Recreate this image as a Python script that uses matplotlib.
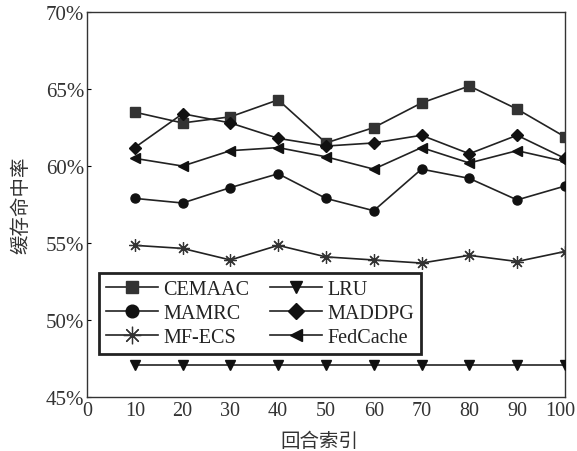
import matplotlib
matplotlib.use("Agg")
import matplotlib.pyplot as plt
from matplotlib.ticker import FuncFormatter
from matplotlib.transforms import ScaledTranslation

rounds = [10, 20, 30, 40, 50, 60, 70, 80, 90, 100]
cemaac = [63.5, 62.8, 63.2, 64.3, 61.5, 62.5, 64.1, 65.2, 63.7, 61.9]
mamrc = [57.9, 57.6, 58.6, 59.5, 57.9, 57.1, 59.8, 59.2, 57.8, 58.7]
mfecs = [54.85, 54.65, 53.9, 54.85, 54.1, 53.9, 53.7, 54.2, 53.8, 54.45]
lru = [47.1, 47.1, 47.1, 47.1, 47.1, 47.1, 47.1, 47.1, 47.1, 47.1]
maddpg = [61.2, 63.4, 62.8, 61.8, 61.3, 61.5, 62.0, 60.8, 62.0, 60.5]
fedcache = [60.5, 60.0, 61.0, 61.2, 60.6, 59.8, 61.2, 60.2, 61.0, 60.3]
yticks = [45, 50, 55, 60, 65, 70]
xticks = [0, 10, 20, 30, 40, 50, 60, 70, 80, 90, 100]

serif = ['Liberation Serif', 'DejaVu Serif']
cjk = ['Noto Sans CJK SC', 'DejaVu Sans']

fig = plt.figure(figsize=(5.77, 4.52), dpi=100)
ax = fig.add_axes([0.1508, 0.1195, 0.8282, 0.8515])

lc = '#222222'
kw = dict(color=lc, lw=1.2, markersize=6.5, zorder=3)
ax.plot(rounds, cemaac, marker='s', mfc='#333333', mec='#333333', label='CEMAAC', **kw)
ax.plot(rounds, mamrc, marker='o', mfc='#111111', mec='#111111', label='MAMRC', **kw)
ax.plot(rounds, mfecs, marker=(8, 2, 0), mec='#333333', label='MF-ECS',
        color=lc, lw=1.2, markersize=9, mew=0.9, zorder=3)
ax.plot(rounds, lru, marker='v', mfc='#111111', mec='#111111', label='LRU', **kw)
ax.plot(rounds, maddpg, marker='D', mfc='#111111', mec='#111111', label='MADDPG',
        color=lc, lw=1.2, markersize=6, zorder=3)
ax.plot(rounds, fedcache, marker='<', mfc='#111111', mec='#111111', label='FedCache', **kw)

ax.set_xlim(0, 100)
ax.set_ylim(45, 70)
ax.set_xticks(xticks)
ax.set_yticks(yticks)
ax.yaxis.set_major_formatter(FuncFormatter(lambda v, p: f"{int(v)}%"))
ax.tick_params(axis='y', direction='in', length=3, width=0.8, pad=2, labelsize=15)
ax.tick_params(axis='x', length=0, pad=3, labelsize=14.5)
for lab in ax.get_xticklabels() + ax.get_yticklabels():
    lab.set_family(serif)
    lab.set_color('#333333')
last = ax.xaxis.get_major_ticks()[-1].label1
last.set_transform(last.get_transform() + ScaledTranslation(-0.045, 0, fig.dpi_scale_trans))
for s in ax.spines.values():
    s.set_linewidth(1.0)
    s.set_color('#333333')

ax.set_xlabel('回合索引', family=cjk, fontsize=14, color='#333333', labelpad=6)
ax.xaxis.set_label_coords(0.487, -0.085)
ax.set_ylabel('缓存命中率', family=cjk, fontsize=14, color='#333333', labelpad=10)

handles, labels = ax.get_legend_handles_labels()
leg = ax.legend(handles, labels,
                ncol=2, loc='lower left', bbox_to_anchor=(0.025, 0.112),
                borderaxespad=0, prop={'family': serif, 'size': 14.5},
                handlelength=2.6, handletextpad=0.25, columnspacing=1.0,
                labelspacing=0.24, borderpad=0.35, fancybox=False, framealpha=1,
                edgecolor='#222222', markerscale=1.4)
leg.get_frame().set_linewidth(2)
for t in leg.get_texts():
    t.set_color('#222222')

fig.savefig('out.png', dpi=100)
